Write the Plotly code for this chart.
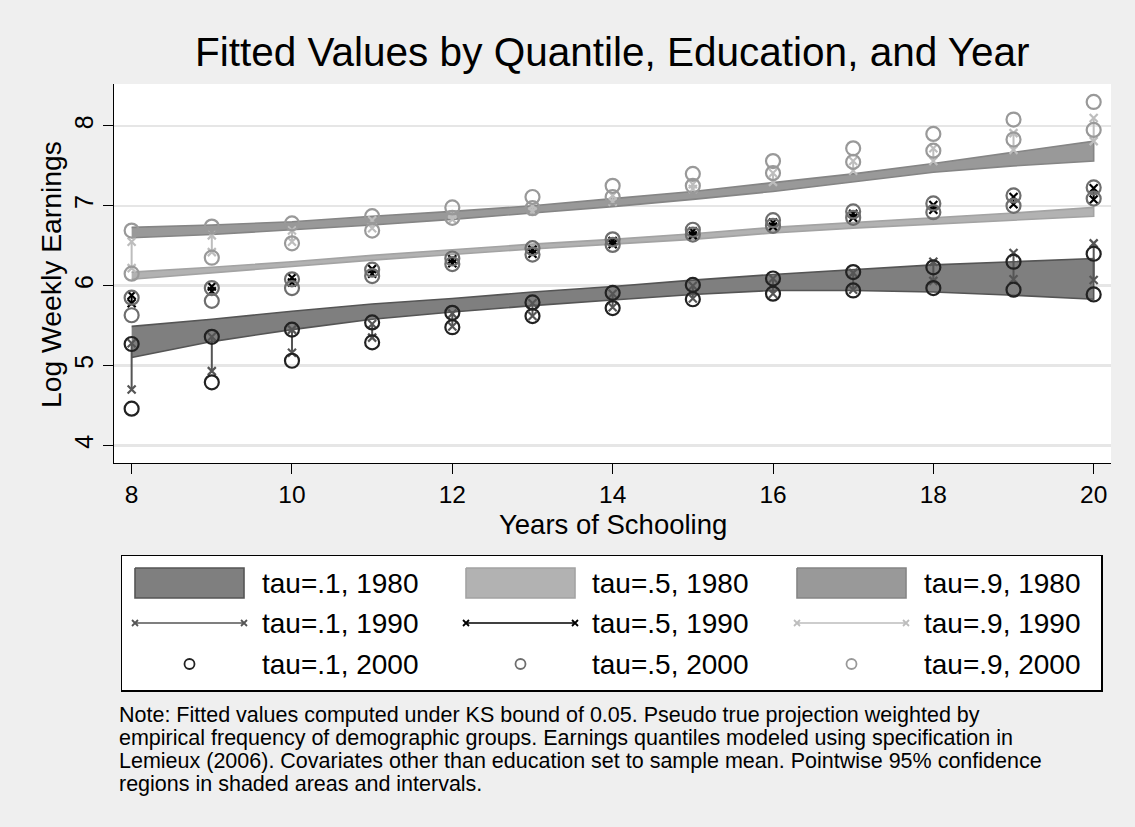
import plotly.graph_objects as go

# ---------------- data ----------------
years = [8, 9, 10, 11, 12, 13, 14, 15, 16, 17, 18, 19, 20]

# 1980: pointwise confidence bands (lower / upper)
t1_1980_lo = [5.10, 5.30, 5.45, 5.58, 5.67, 5.75, 5.82, 5.89, 5.94, 5.94, 5.92, 5.88, 5.83]
t1_1980_hi = [5.49, 5.58, 5.68, 5.77, 5.84, 5.92, 5.99, 6.07, 6.14, 6.20, 6.26, 6.30, 6.34]
t5_1980_lo = [6.08, 6.16, 6.24, 6.32, 6.39, 6.46, 6.52, 6.58, 6.66, 6.72, 6.77, 6.82, 6.87]
t5_1980_hi = [6.17, 6.23, 6.30, 6.38, 6.45, 6.52, 6.58, 6.65, 6.73, 6.79, 6.85, 6.91, 6.98]
t9_1980_lo = [6.60, 6.64, 6.70, 6.76, 6.83, 6.91, 6.99, 7.08, 7.18, 7.30, 7.42, 7.50, 7.56]
t9_1980_hi = [6.73, 6.76, 6.80, 6.87, 6.93, 7.00, 7.09, 7.18, 7.29, 7.40, 7.53, 7.67, 7.81]

# 1990: interval end points
t1_1990_lo = [4.70, 4.93, 5.16, 5.35, 5.49, 5.62, 5.73, 5.84, 5.90, 5.95, 6.06, 6.08, 6.07]
t1_1990_hi = [5.28, 5.36, 5.45, 5.52, 5.65, 5.78, 5.90, 6.00, 6.09, 6.16, 6.30, 6.41, 6.53]
t5_1990_lo = [5.78, 5.93, 6.04, 6.15, 6.28, 6.40, 6.52, 6.63, 6.74, 6.85, 6.95, 7.02, 7.08]
t5_1990_hi = [5.88, 5.99, 6.10, 6.21, 6.33, 6.45, 6.56, 6.68, 6.79, 6.90, 7.01, 7.11, 7.22]
t9_1990_lo = [6.22, 6.42, 6.55, 6.72, 6.83, 6.93, 7.05, 7.21, 7.30, 7.44, 7.56, 7.70, 7.81]
t9_1990_hi = [6.55, 6.63, 6.69, 6.82, 6.89, 7.00, 7.13, 7.27, 7.41, 7.56, 7.72, 7.91, 8.10]

# 2000: interval end points
t1_2000_lo = [4.46, 4.79, 5.06, 5.29, 5.48, 5.62, 5.72, 5.83, 5.90, 5.94, 5.97, 5.95, 5.89]
t1_2000_hi = [5.27, 5.36, 5.45, 5.54, 5.66, 5.79, 5.91, 6.01, 6.09, 6.17, 6.23, 6.30, 6.40]
t5_2000_lo = [5.63, 5.81, 5.97, 6.12, 6.27, 6.39, 6.51, 6.64, 6.75, 6.85, 6.92, 7.00, 7.09]
t5_2000_hi = [5.85, 5.97, 6.08, 6.20, 6.34, 6.47, 6.58, 6.70, 6.82, 6.93, 7.03, 7.13, 7.23]
t9_2000_lo = [6.15, 6.35, 6.53, 6.69, 6.85, 6.97, 7.11, 7.25, 7.41, 7.55, 7.69, 7.83, 7.95]
t9_2000_hi = [6.69, 6.74, 6.78, 6.87, 6.98, 7.11, 7.25, 7.40, 7.56, 7.72, 7.90, 8.08, 8.30]

x_ticks = [8, 10, 12, 14, 16, 18, 20]
y_ticks = [4, 5, 6, 7, 8]

legend_labels = [
    ["tau=.1, 1980", "tau=.5, 1980", "tau=.9, 1980"],
    ["tau=.1, 1990", "tau=.5, 1990", "tau=.9, 1990"],
    ["tau=.1, 2000", "tau=.5, 2000", "tau=.9, 2000"],
]

note_lines = [
    "Note: Fitted values computed under KS bound of 0.05. Pseudo true projection weighted by",
    "empirical frequency of demographic groups. Earnings quantiles modeled using specification in",
    "Lemieux (2006). Covariates other than education set to sample mean. Pointwise 95% confidence",
    "regions in shaded areas and intervals.",
]

# ---------------- styles ----------------
FONT = "Liberation Sans, Arial, Helvetica, sans-serif"
W, H = 1135, 827
BG = "#efefef"

band_styles = [  # fill, outline
    ("#7f7f7f", "#555555"),
    ("#b2b2b2", "#a3a3a3"),
    ("#999999", "#858585"),
]
y1990_colors = ["#555555", "#000000", "#bdbdbd"]
y2000_colors = ["#222222", "#6e6e6e", "#999999"]

bands = [(t1_1980_lo, t1_1980_hi), (t5_1980_lo, t5_1980_hi), (t9_1980_lo, t9_1980_hi)]
ints90 = [(t1_1990_lo, t1_1990_hi), (t5_1990_lo, t5_1990_hi), (t9_1990_lo, t9_1990_hi)]
pts00 = [(t1_2000_lo, t1_2000_hi), (t5_2000_lo, t5_2000_hi), (t9_2000_lo, t9_2000_hi)]

fig = go.Figure()

# 1980 bands
for (lo, hi), (fc, lc) in zip(bands, band_styles):
    fig.add_trace(go.Scatter(
        x=years + years[::-1], y=hi + lo[::-1],
        mode="lines", fill="toself", fillcolor=fc,
        line=dict(color=lc, width=1.6), showlegend=False, hoverinfo="skip",
    ))

# 1990 intervals (capped with x markers)
for (lo, hi), c in zip(ints90, y1990_colors):
    xs, ys = [], []
    for yr, a, b in zip(years, lo, hi):
        xs += [yr, yr, None]
        ys += [a, b, None]
    fig.add_trace(go.Scatter(
        x=xs, y=ys, mode="lines+markers",
        line=dict(color=c, width=2),
        marker=dict(symbol="x-thin", size=8, color=c, line=dict(color=c, width=2.2)),
        showlegend=False, hoverinfo="skip",
    ))

# 2000 end points (hollow circles)
for (lo, hi), c in zip(pts00, y2000_colors):
    fig.add_trace(go.Scatter(
        x=years + years, y=lo + hi, mode="markers",
        marker=dict(symbol="circle-open", size=14, color=c, line=dict(color=c, width=2.2)),
        showlegend=False, hoverinfo="skip",
    ))

# ---------------- legend (drawn in a helper axis, pixel-like units) ----------------
LX0, LX1, LY0, LY1 = 122, 1101, 556, 690
key_x0 = [13, 344, 675]
key_w = 109
text_x = [138, 468, 800]
row_y = [27, 67, 108]

for j in range(3):
    fc, lc = band_styles[j]
    fig.add_trace(go.Scatter(
        x=[key_x0[j], key_x0[j] + key_w, key_x0[j] + key_w, key_x0[j], key_x0[j]],
        y=[row_y[0] - 15, row_y[0] - 15, row_y[0] + 15, row_y[0] + 15, row_y[0] - 15],
        mode="lines", fill="toself", fillcolor=fc, line=dict(color=lc, width=1.6),
        xaxis="x2", yaxis="y2", showlegend=False, hoverinfo="skip",
    ))
    c = y1990_colors[j]
    fig.add_trace(go.Scatter(
        x=[key_x0[j], key_x0[j] + key_w], y=[row_y[1], row_y[1]],
        mode="lines+markers", line=dict(color=c, width=1.6),
        marker=dict(symbol="x-thin", size=6, color=c, line=dict(color=c, width=1.8)),
        xaxis="x2", yaxis="y2", showlegend=False, hoverinfo="skip",
    ))
    c = y2000_colors[j]
    fig.add_trace(go.Scatter(
        x=[key_x0[j] + key_w / 2], y=[row_y[2]],
        mode="markers",
        marker=dict(symbol="circle-open", size=10, color=c, line=dict(color=c, width=1.8)),
        xaxis="x2", yaxis="y2", showlegend=False, hoverinfo="skip",
    ))

annotations = []
for i in range(3):
    for j in range(3):
        annotations.append(dict(
            x=text_x[j], y=row_y[i], xref="x2", yref="y2",
            text=legend_labels[i][j], showarrow=False,
            xanchor="left", yanchor="middle",
            font=dict(family=FONT, size=28, color="#000000"),
        ))

# title
annotations.append(dict(
    x=(114 + 1111) / 2 / W, y=1 - 52 / H, xref="paper", yref="paper",
    text="Fitted Values by Quantile, Education, and Year", showarrow=False,
    xanchor="center", yanchor="middle",
    font=dict(family=FONT, size=40.5, color="#000000"),
))
# axis titles
annotations.append(dict(
    x=(114 + 1111) / 2 / W, y=1 - 524 / H, xref="paper", yref="paper",
    text="Years of Schooling", showarrow=False, xanchor="center", yanchor="middle",
    font=dict(family=FONT, size=27.5, color="#000000"),
))
annotations.append(dict(
    x=51 / W, y=1 - 275 / H, xref="paper", yref="paper",
    text="Log Weekly Earnings", showarrow=False, xanchor="center", yanchor="middle",
    textangle=-90, font=dict(family=FONT, size=28.3, color="#000000"),
))
# note (one annotation per line, tight Stata-like line spacing)
for k, line in enumerate(note_lines):
    annotations.append(dict(
        x=117 / W, y=1 - (714.5 + 23 * k) / H, xref="paper", yref="paper",
        text=line, showarrow=False, xanchor="left", yanchor="middle",
        font=dict(family=FONT, size=21.5, color="#000000"),
    ))

fig.update_layout(
    width=W, height=H,
    margin=dict(l=0, r=0, t=0, b=0),
    paper_bgcolor=BG, plot_bgcolor="#ffffff",
    showlegend=False,
    font=dict(family=FONT, color="#000000"),
    xaxis=dict(
        domain=[114 / W, 1111 / W], range=[7.78, 20.216],
        tickvals=x_ticks, ticktext=[str(v) for v in x_ticks],
        ticks="outside", ticklen=10, tickwidth=1, tickcolor="#000000",
        showline=True, linecolor="#000000", linewidth=1,
        showgrid=False, zeroline=False, automargin=False,
        tickfont=dict(family=FONT, size=24.5, color="#000000"),
    ),
    yaxis=dict(
        domain=[1 - 463 / H, 1 - 84 / H], range=[3.78, 8.525],
        tickvals=y_ticks, ticktext=[str(v) for v in y_ticks], tickangle=-90,
        ticks="outside", ticklen=10, tickwidth=1, tickcolor="#000000",
        showline=True, linecolor="#000000", linewidth=1,
        showgrid=True, gridcolor="#e6e6e6", gridwidth=2.5,
        zeroline=False, automargin=False,
        tickfont=dict(family=FONT, size=25, color="#000000"),
    ),
    xaxis2=dict(
        domain=[LX0 / W, LX1 / W], range=[0, LX1 - LX0], anchor="y2",
        showline=True, mirror=True, linecolor="#000000", linewidth=1.5,
        showticklabels=False, ticks="", showgrid=False, zeroline=False, fixedrange=True,
    ),
    yaxis2=dict(
        domain=[1 - LY1 / H, 1 - LY0 / H], range=[LY1 - LY0, 0], anchor="x2",
        showline=True, mirror=True, linecolor="#000000", linewidth=1.5,
        showticklabels=False, ticks="", showgrid=False, zeroline=False, fixedrange=True,
    ),
    annotations=annotations,
)

fig.write_html(
    "out.html",
    config={"displayModeBar": False, "staticPlot": True},
    post_script="document.body.style.margin='0px';document.body.style.overflow='hidden';",
)
